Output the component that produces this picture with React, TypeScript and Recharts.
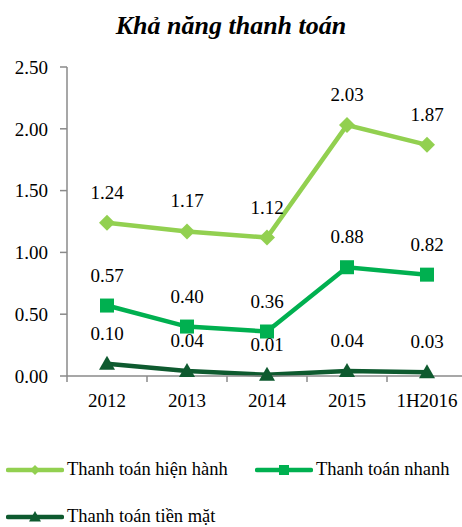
import React from "react";
import { LineChart, Line, XAxis, YAxis, LabelList } from "recharts";

const years = ["2012", "2013", "2014", "2015", "1H2016"];
const currentRatio = [1.24, 1.17, 1.12, 2.03, 1.87];
const quickRatio = [0.57, 0.4, 0.36, 0.88, 0.82];
const cashRatio = [0.1, 0.04, 0.01, 0.04, 0.03];
const yTicks = [0, 0.5, 1, 1.5, 2, 2.5];

const C_CURRENT = "#92D050";
const C_QUICK = "#00B050";
const C_CASH = "#0E5A2F";
const AXIS = "#8a8a8a";
const FONT = '"Liberation Serif", "Times New Roman", serif';

const data = years.map((y, i) => ({
  year: y,
  current: currentRatio[i],
  quick: quickRatio[i],
  cash: cashRatio[i],
}));

// markers (size instead of r, recharts overwrites r)
const Diamond = ({ cx, cy, fill, size = 8 }: any) =>
  cx == null ? null : (
    <path d={`M${cx},${cy - size}L${cx + size},${cy}L${cx},${cy + size}L${cx - size},${cy}Z`} fill={fill} />
  );
const Square = ({ cx, cy, fill, size = 7 }: any) =>
  cx == null ? null : <rect x={cx - size} y={cy - size} width={2 * size} height={2 * size} fill={fill} />;
const Triangle = ({ cx, cy, fill, size = 8 }: any) =>
  cx == null ? null : (
    <path d={`M${cx},${cy - size}L${cx + size},${cy + size * 0.75}L${cx - size},${cy + size * 0.75}Z`} fill={fill} />
  );

// x tick: label at band centre, tick mark at band boundary
const XTick = ({ x, y, payload }: any) => {
  const off = payload?.offset ?? 40;
  return (
    <g>
      <line x1={x - off} x2={x - off} y1={y - 6} y2={y} stroke={AXIS} strokeWidth={1.5} />
      <text x={x} y={y + 25} textAnchor="middle" style={{ fontSize: 19, fontFamily: FONT }} fill="#000">
        {payload.value}
      </text>
    </g>
  );
};

const labelStyle = { fontSize: 19, fontFamily: FONT, fill: "#000" };
const fmt = (v: any) => Number(v).toFixed(2);

const LegendItem = ({ color, label, marker }: { color: string; label: string; marker: string }) => (
  <div style={{ display: "flex", alignItems: "center" }}>
    <svg width={58} height={14} style={{ marginRight: 3 }}>
      <line x1={2} x2={56} y1={7} y2={7} stroke={color} strokeWidth={4.5} strokeLinecap="round" />
      {marker === "diamond" && <Diamond cx={29} cy={7} size={5} fill={color} />}
      {marker === "square" && <Square cx={29} cy={7} size={5} fill={color} />}
      {marker === "triangle" && <Triangle cx={29} cy={7} size={6} fill={color} />}
    </svg>
    <span>{label}</span>
  </div>
);

export default function App() {
  return (
    <div
      style={{
        position: "absolute",
        left: 0,
        top: 0,
        width: 462,
        height: 527,
        overflow: "hidden",
        background: "#fff",
        fontFamily: FONT,
      }}
    >
      <div
        style={{
          position: "absolute",
          top: 11,
          left: 0,
          width: 462,
          textAlign: "center",
          fontSize: 26,
          fontWeight: "bold",
          fontStyle: "italic",
        }}
      >
        Khả năng thanh toán
      </div>

      <LineChart
        width={480}
        height={420}
        data={data}
        margin={{ top: 67, right: 13, left: 0, bottom: 0 }}
        style={{ position: "absolute", left: 0, top: 0, fontFamily: FONT }}
      >
        <YAxis
          width={67}
          domain={[0, 2.5]}
          ticks={yTicks}
          tickFormatter={(v: number) => v.toFixed(2)}
          tick={labelStyle}
          tickSize={7}
          tickMargin={12}
          axisLine={{ stroke: AXIS, strokeWidth: 1.5 }}
          tickLine={{ stroke: AXIS, strokeWidth: 1.5 }}
          interval={0}
        />
        <XAxis
          dataKey="year"
          scale="band"
          height={44}
          tick={<XTick />}
          tickSize={6}
          tickMargin={0}
          tickLine={false}
          axisLine={{ stroke: AXIS, strokeWidth: 1.5 }}
          interval={0}
        />
        <Line
          dataKey="current"
          stroke={C_CURRENT}
          strokeWidth={4.5}
          dot={<Diamond fill={C_CURRENT} />}
          activeDot={false}
          isAnimationActive={false}
        >
          <LabelList dataKey="current" position="top" offset={24} formatter={fmt} style={labelStyle} />
        </Line>
        <Line
          dataKey="quick"
          stroke={C_QUICK}
          strokeWidth={4.5}
          dot={<Square fill={C_QUICK} />}
          activeDot={false}
          isAnimationActive={false}
        >
          <LabelList dataKey="quick" position="top" offset={24} formatter={fmt} style={labelStyle} />
        </Line>
        <Line
          dataKey="cash"
          stroke={C_CASH}
          strokeWidth={4.5}
          dot={<Triangle fill={C_CASH} />}
          activeDot={false}
          isAnimationActive={false}
        >
          <LabelList dataKey="cash" position="top" offset={24} formatter={fmt} style={labelStyle} />
        </Line>
      </LineChart>

      {/* legend */}
      <div style={{ position: "absolute", left: 6, top: 459, fontSize: 18.5, color: "#000" }}>
        <div style={{ display: "flex" }}>
          <div style={{ width: 249 }}>
            <LegendItem color={C_CURRENT} label="Thanh toán hiện hành" marker="diamond" />
          </div>
          <LegendItem color={C_QUICK} label="Thanh toán nhanh" marker="square" />
        </div>
        <div style={{ marginTop: 26 }}>
          <LegendItem color={C_CASH} label="Thanh toán tiền mặt" marker="triangle" />
        </div>
      </div>
    </div>
  );
}
